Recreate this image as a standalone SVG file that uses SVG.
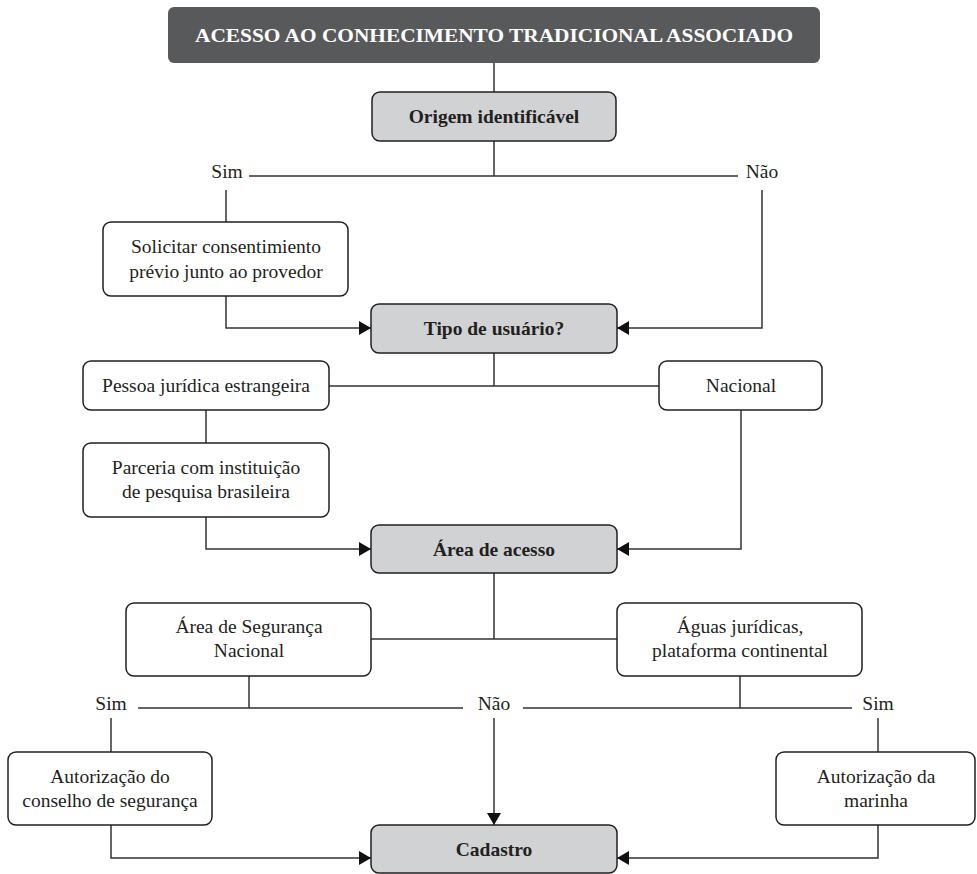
<svg xmlns="http://www.w3.org/2000/svg" width="977" height="874" viewBox="0 0 977 874">
<style>
.box{fill:#fff;stroke:#231f20;stroke-width:1.5}
.dec{fill:#d1d2d4;stroke:#231f20;stroke-width:1.5}
.t{font-family:"Liberation Serif","DejaVu Serif","Times New Roman",serif;font-size:19.5px;fill:#231f20;text-anchor:middle}
.b{font-weight:bold}
.w{font-family:"Liberation Serif","DejaVu Serif","Times New Roman",serif;font-size:18px;font-weight:bold;fill:#fff;text-anchor:middle}
.ln{fill:none;stroke:#333;stroke-width:1.5}
</style>
<defs>
<marker id="ah" markerWidth="12" markerHeight="14" refX="12" refY="7" orient="auto" markerUnits="userSpaceOnUse">
<path d="M0,0 L12,7 L0,14 Z" fill="#111"/>
</marker>
</defs>
<rect width="977" height="874" fill="#fff"/>
<g id="connectors">
<path class="ln" d="M494,63 V92"/>
<path class="ln" d="M494,141 V176 M249,176 H738"/>
<path class="ln" d="M226,190 V222"/>
<path class="ln" d="M226,296 V328 H371" marker-end="url(#ah)"/>
<path class="ln" d="M762,190 V328 H617" marker-end="url(#ah)"/>
<path class="ln" d="M494,353 V386 M329,386 H659"/>
<path class="ln" d="M206,410 V443"/>
<path class="ln" d="M206,517 V549 H371" marker-end="url(#ah)"/>
<path class="ln" d="M741,410 V549 H617" marker-end="url(#ah)"/>
<path class="ln" d="M494,573 V639 M371,639 H617"/>
<path class="ln" d="M249,676 V708 M138,708 H463"/>
<path class="ln" d="M740,676 V708 M523,708 H852"/>
<path class="ln" d="M111,718 V752"/>
<path class="ln" d="M878,718 V752"/>
<path class="ln" d="M494,718 V825" marker-end="url(#ah)"/>
<path class="ln" d="M111,825 V858 H371" marker-end="url(#ah)"/>
<path class="ln" d="M878,825 V858 H617" marker-end="url(#ah)"/>
</g>
<g id="labels">
<text class="t" x="227" y="178">Sim</text>
<text class="t" x="762" y="178">Não</text>
<text class="t" x="111" y="710">Sim</text>
<text class="t" x="494" y="710">Não</text>
<text class="t" x="878" y="710">Sim</text>
</g>
<g id="title">
<rect x="168" y="7" width="652" height="56" rx="6" fill="#58595b"/>
<text class="w" x="494" y="41.5" textLength="598" lengthAdjust="spacingAndGlyphs">ACESSO AO CONHECIMENTO TRADICIONAL ASSOCIADO</text>
</g>
<g id="origem">
<rect class="dec" x="372" y="92" width="244" height="49" rx="8"/>
<text class="t b" x="494" y="123">Origem identificável</text>
</g>
<g id="solicitar">
<rect class="box" x="103" y="222" width="245" height="74" rx="8"/>
<text class="t" x="226" y="253">Solicitar consentimiento</text>
<text class="t" x="226" y="278">prévio junto ao provedor</text>
</g>
<g id="tipo">
<rect class="dec" x="371" y="304" width="246" height="49" rx="8"/>
<text class="t b" x="494" y="335">Tipo de usuário?</text>
</g>
<g id="pessoa">
<rect class="box" x="83" y="361" width="246" height="49" rx="8"/>
<text class="t" x="206" y="392">Pessoa jurídica estrangeira</text>
</g>
<g id="nacional">
<rect class="box" x="659" y="361" width="163" height="49" rx="8"/>
<text class="t" x="741" y="392">Nacional</text>
</g>
<g id="parceria">
<rect class="box" x="83" y="443" width="246" height="74" rx="8"/>
<text class="t" x="206" y="474">Parceria com instituição</text>
<text class="t" x="206" y="498">de pesquisa brasileira</text>
</g>
<g id="area">
<rect class="dec" x="371" y="525" width="246" height="48" rx="8"/>
<text class="t b" x="494" y="556">Área de acesso</text>
</g>
<g id="seguranca">
<rect class="box" x="126" y="603" width="245" height="73" rx="8"/>
<text class="t" x="249" y="633">Área de Segurança</text>
<text class="t" x="249" y="657">Nacional</text>
</g>
<g id="aguas">
<rect class="box" x="617" y="603" width="245" height="73" rx="8"/>
<text class="t" x="740" y="633">Águas jurídicas,</text>
<text class="t" x="740" y="657">plataforma continental</text>
</g>
<g id="conselho">
<rect class="box" x="8" y="752" width="204" height="73" rx="8"/>
<text class="t" x="110" y="783">Autorização do</text>
<text class="t" x="110" y="807">conselho de segurança</text>
</g>
<g id="marinha">
<rect class="box" x="776" y="752" width="199" height="73" rx="8"/>
<text class="t" x="876" y="783">Autorização da</text>
<text class="t" x="876" y="807">marinha</text>
</g>
<g id="cadastro">
<rect class="dec" x="371" y="825" width="246" height="48" rx="8"/>
<text class="t b" x="494" y="856">Cadastro</text>
</g>
</svg>
